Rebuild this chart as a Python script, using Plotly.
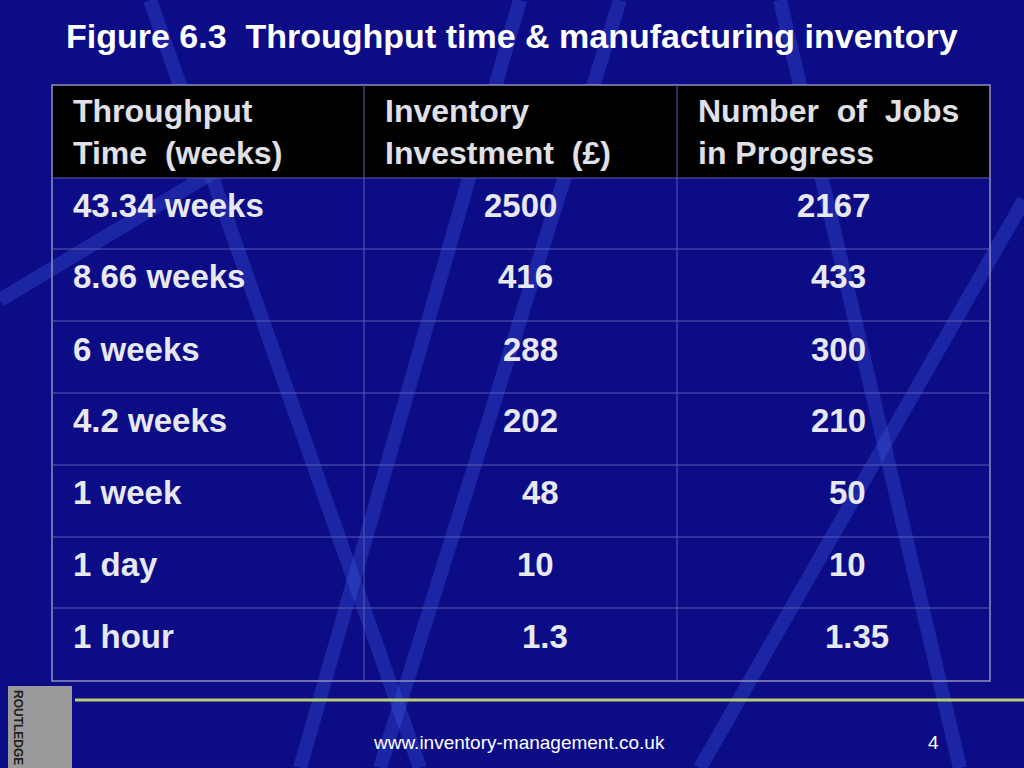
import plotly.graph_objects as go

title = "Figure 6.3  Throughput time & manufacturing inventory"
headers = ["Throughput<br>Time  (weeks)", "Inventory<br>Investment  (£)", "Number  of  Jobs<br>in Progress"]
throughput = ["43.34 weeks", "8.66 weeks", "6 weeks", "4.2 weeks", "1 week", "1 day", "1 hour"]
investment = ["2500", "416", "288", "202", "48", "10", "1.3"]
jobs = ["2167", "433", "300", "210", "50", "10", "1.35"]
inv_x = [520, 525, 530, 530, 540, 535, 545]
jobs_x = [833, 838, 838, 838, 847, 847, 857]

fig = go.Figure()
shapes = []
ann = []
for x0, y0, x1, y1 in [(150, 0, 420, 768), (620, 0, 380, 768), (780, 0, 960, 768), (0, 300, 300, 120), (1024, 200, 700, 768), (300, 768, 520, 0)]:
    shapes.append(dict(type="line", x0=x0, y0=y0, x1=x1, y1=y1, line=dict(color="rgba(60,90,220,0.35)", width=14), layer="below"))
shapes.append(dict(type="rect", x0=52, y0=85, x1=990, y1=178, fillcolor="black", line=dict(width=0)))
shapes.append(dict(type="rect", x0=52, y0=85, x1=990, y1=681, line=dict(color="#8f8fc0", width=1.5)))
for x in [364, 677]:
    shapes.append(dict(type="line", x0=x, y0=85, x1=x, y1=681, line=dict(color="#5a5ab0", width=1)))
for y in [178, 249, 321, 393, 465, 537, 608]:
    shapes.append(dict(type="line", x0=52, y0=y, x1=990, y1=y, line=dict(color="#5a5ab0", width=1)))
shapes.append(dict(type="line", x0=75, y0=700, x1=1024, y1=700, line=dict(color="#b8d070", width=3)))
shapes.append(dict(type="rect", x0=8, y0=686, x1=72, y1=768, fillcolor="#9a9a9a", line=dict(width=0)))

F = "Liberation Sans, Arial, sans-serif"
ann.append(dict(x=512, y=36, text="<b>" + title + "</b>", font=dict(size=34, color="white", family=F), showarrow=False))
for x, h in zip([71, 383, 696], headers):
    ann.append(dict(x=x, y=132, text="<b>" + h + "</b>", xanchor="left", align="left", font=dict(size=32, color="#e0e0e8", family=F), showarrow=False))
rows_y = [205, 276, 349, 420, 492, 564, 636]
for i, y in enumerate(rows_y):
    ann.append(dict(x=71, y=y, text="<b>" + throughput[i] + "</b>", xanchor="left", font=dict(size=33, color="#e8e8f0", family=F), showarrow=False))
    ann.append(dict(x=inv_x[i], y=y, text="<b>" + investment[i] + "</b>", font=dict(size=33, color="#e8e8f0", family=F), showarrow=False))
    ann.append(dict(x=jobs_x[i], y=y, text="<b>" + jobs[i] + "</b>", font=dict(size=33, color="#e8e8f0", family=F), showarrow=False))
ann.append(dict(x=519, y=742, text="www.inventory-management.co.uk", font=dict(size=19, color="white", family=F), showarrow=False))
ann.append(dict(x=933, y=742, text="4", font=dict(size=19, color="white", family=F), showarrow=False))
ann.append(dict(x=18, y=727, text="<b>ROUTLEDGE</b>", textangle=90, font=dict(size=12, color="#202020", family=F), showarrow=False))

fig.update_layout(width=1024, height=768, margin=dict(l=0, r=0, t=0, b=0),
                  paper_bgcolor="#0c0c86", plot_bgcolor="#0c0c86",
                  xaxis=dict(range=[0, 1024], visible=False, fixedrange=True),
                  yaxis=dict(range=[768, 0], visible=False, fixedrange=True),
                  shapes=shapes, annotations=ann, showlegend=False)
fig.write_html("out.html", config={"displayModeBar": False},
               post_script="document.body.style.margin='0';document.body.style.overflow='hidden';")
